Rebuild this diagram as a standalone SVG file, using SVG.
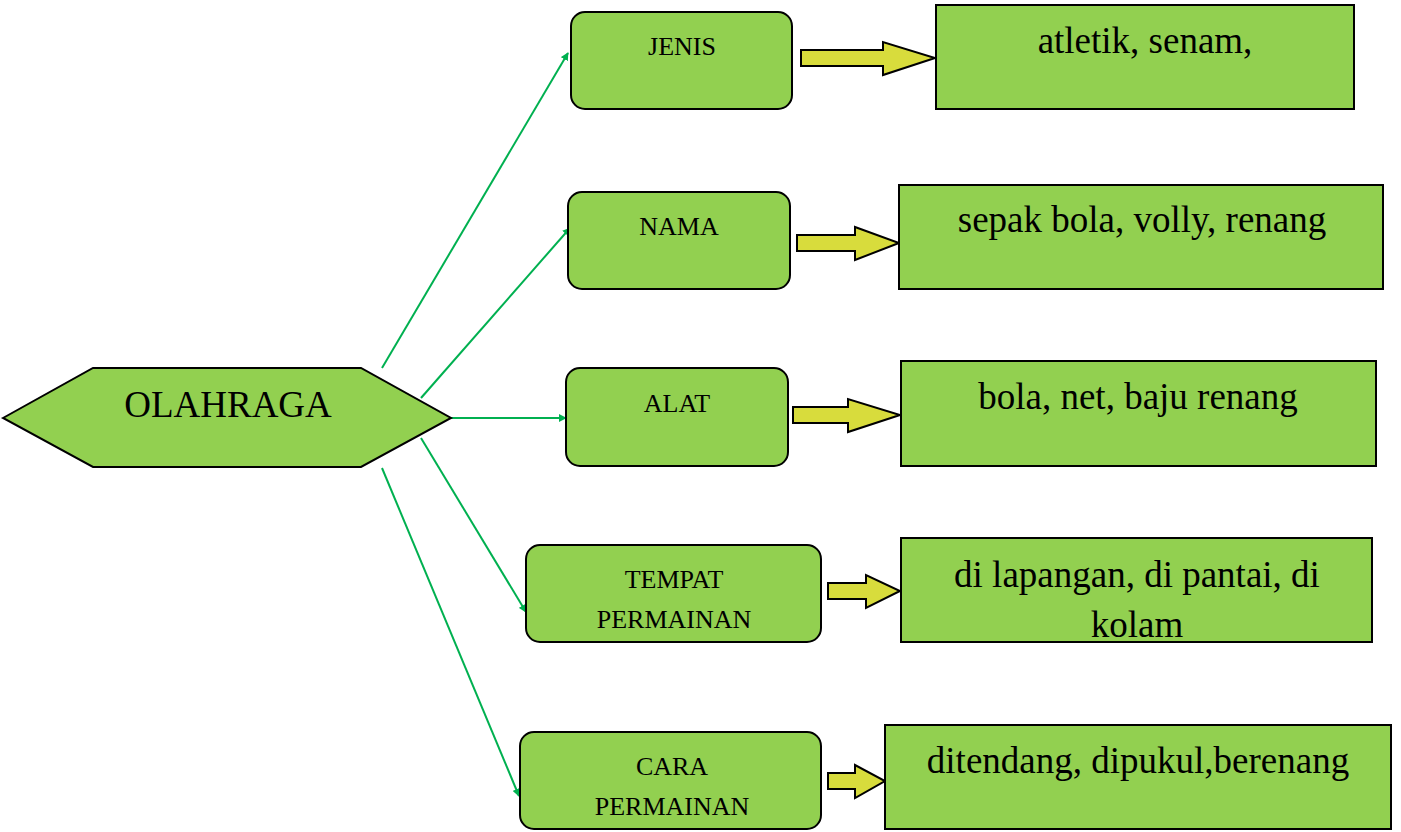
<svg xmlns="http://www.w3.org/2000/svg" width="1401" height="832" viewBox="0 0 1401 832">
<style>
.n{fill:#92d050;stroke:#000;stroke-width:2}
.ba{fill:#d8dc3c;stroke:#000;stroke-width:2}
.c{stroke:#00b050;stroke-width:2;fill:none;marker-end:url(#m)}
.s{font-family:"Liberation Serif",serif;font-size:26px;text-anchor:middle}
.b{font-family:"Liberation Serif",serif;font-size:37px;text-anchor:middle}
</style>
<defs><marker id="m" viewBox="0 0 10 10" refX="9" refY="5" markerWidth="4" markerHeight="4" orient="auto" markerUnits="strokeWidth"><path d="M0,0L10,5L0,10z" fill="#00b050"/></marker></defs>
<rect width="1401" height="832" fill="#fff"/>
<g id="connectors">
<path class="c" d="M382,368L568,53"/>
<path class="c" d="M421,398L570,228"/>
<path class="c" d="M451,418L566,418"/>
<path class="c" d="M421,438L526,612"/>
<path class="c" d="M382,468L519,796"/>
<path class="ba" d="M801,50H883V42L935,58L883,75V66H801Z"/>
<path class="ba" d="M797,235H855V227L899,243L855,260V251H797Z"/>
<path class="ba" d="M793,407H848V399L900,415L848,432V423H793Z"/>
<path class="ba" d="M828,583H866V575L900,591L866,608V599H828Z"/>
<path class="ba" d="M828,773H855V765L885,781L855,798V789H828Z"/>
</g>
<g id="olahraga"><path class="n" d="M3,418L93,368H361L451,418L361,467H93Z"/><text class="b" x="228" y="417">OLAHRAGA</text></g>
<g id="jenis"><rect class="n" x="571" y="12" width="221" height="97" rx="14"/><text class="s" x="682" y="55">JENIS</text></g>
<g id="nama"><rect class="n" x="568" y="192" width="222" height="97" rx="14"/><text class="s" x="679" y="235">NAMA</text></g>
<g id="alat"><rect class="n" x="566" y="368" width="222" height="98" rx="14"/><text class="s" x="677" y="412">ALAT</text></g>
<g id="tempat"><rect class="n" x="526" y="545" width="295" height="97" rx="14"/><text class="s" x="674" y="588">TEMPAT</text><text class="s" x="674" y="628">PERMAINAN</text></g>
<g id="cara"><rect class="n" x="520" y="732" width="301" height="97" rx="14"/><text class="s" x="672" y="775">CARA</text><text class="s" x="672" y="815">PERMAINAN</text></g>
<g id="v1"><rect class="n" x="936" y="5" width="418" height="104"/><text class="b" x="1145" y="53">atletik, senam,</text></g>
<g id="v2"><rect class="n" x="899" y="185" width="484" height="104"/><text class="b" x="1142" y="232">sepak bola, volly, renang</text></g>
<g id="v3"><rect class="n" x="901" y="361" width="475" height="105"/><text class="b" x="1138" y="409">bola, net, baju renang</text></g>
<g id="v4"><rect class="n" x="901" y="538" width="471" height="104"/><text class="b" x="1137" y="587">di lapangan, di pantai,  di</text><text class="b" x="1137" y="637">kolam</text></g>
<g id="v5"><rect class="n" x="885" y="725" width="506" height="104"/><text class="b" x="1138" y="773">ditendang, dipukul,berenang</text></g>
</svg>
